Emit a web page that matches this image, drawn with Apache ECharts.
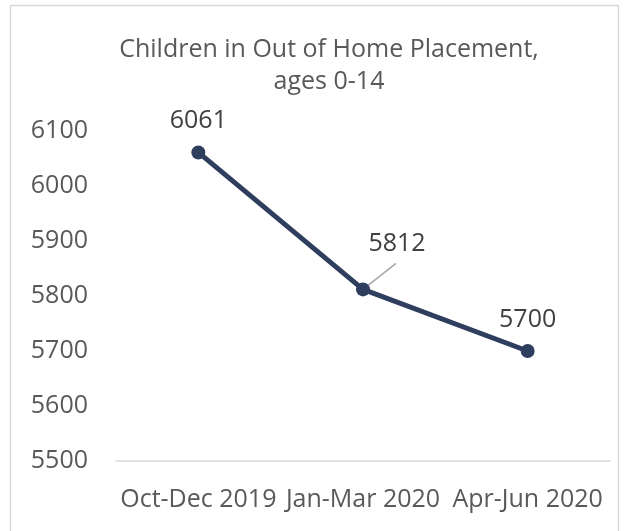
<!DOCTYPE html>
<html>
<head>
<meta charset="utf-8">
<script src="https://cdn.jsdelivr.net/npm/echarts@6/dist/echarts.min.js"></script>
<style>
    html, body { margin: 0; padding: 0; background: #fff; }
    #main { width: 624px; height: 531px; }
</style>
</head>
<body>
<div id="main"></div>
<script>
'use strict';

// data
var quarters = ['Oct-Dec 2019', 'Jan-Mar 2020', 'Apr-Jun 2020'];
var children = [6061, 5812, 5700];
var yTicks = [5500, 5600, 5700, 5800, 5900, 6000, 6100];
var leaderIndex = 1; // only the middle label is pulled off with a leader line

var chart = echarts.init(document.getElementById('main'));
var font = 'Open Sans';
var navy = '#2f3e5e';

var option = {
    backgroundColor: '#fff',
    animation: false,
    title: {
        text: 'Children in Out of Home Placement,\nages 0-14',
        left: 324,
        textAlign: 'center',
        top: 29,
        textStyle: {
            fontFamily: font,
            fontWeight: 'normal',
            fontSize: 25,
            lineHeight: 32,
            color: '#595959'
        }
    },
    grid: {left: 116, right: 14, top: 131, bottom: 70},
    xAxis: {
        type: 'category',
        data: quarters,
        axisLine: {lineStyle: {color: '#d9d9d9', width: 1.5}},
        axisTick: {show: false},
        axisLabel: {
            fontFamily: font,
            fontSize: 25,
            color: '#595959',
            margin: 26,
            interval: 0
        }
    },
    yAxis: {
        type: 'value',
        min: yTicks[0],
        max: yTicks[yTicks.length - 1],
        interval: 100,
        splitLine: {show: false},
        axisLine: {show: false},
        axisTick: {show: false},
        axisLabel: {
            fontFamily: font,
            fontSize: 25,
            color: '#595959',
            margin: 28,
            formatter: function (v) { return String(v); }
        }
    },
    series: [{
        type: 'line',
        data: children,
        symbol: 'circle',
        symbolSize: 14,
        lineStyle: {color: navy, width: 5},
        itemStyle: {color: navy},
        z: 3,
        label: {
            show: true,
            position: 'top',
            distance: 12,
            fontFamily: font,
            fontSize: 25,
            color: '#404040'
        },
        labelLayout: function (params) {
            if (params.dataIndex === leaderIndex) {
                return {dx: 34, dy: -14};
            }
            return {};
        }
    }]
};

chart.setOption(option);

// leader line for the moved label, anchored on the point the axes give us
var p = chart.convertToPixel({seriesIndex: 0}, [leaderIndex, children[leaderIndex]]);
chart.setOption({
    graphic: [{
        type: 'rect',
        shape: {x: 10.5, y: 5.5, width: 608, height: 540},
        style: {fill: 'none', stroke: '#d9d9d9', lineWidth: 1.5},
        silent: true
    }, {
        type: 'line',
        shape: {x1: p[0], y1: p[1], x2: p[0] + 33, y2: p[1] - 26},
        style: {stroke: '#a6a6a6', lineWidth: 1.5},
        z: 1,
        silent: true
    }]
});
</script>
</body>
</html>
